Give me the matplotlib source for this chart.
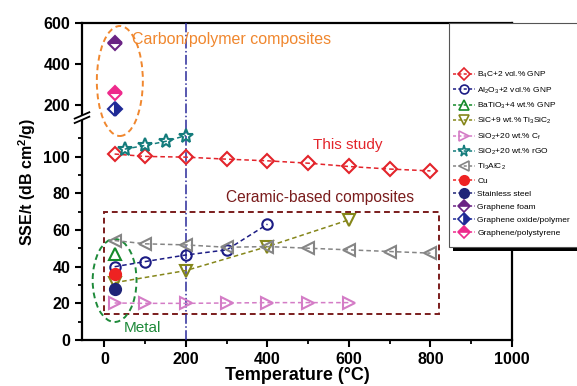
import numpy as np
import matplotlib
matplotlib.use('Agg')
import matplotlib.pyplot as plt
from matplotlib.patches import Ellipse, Rectangle
from matplotlib.lines import Line2D

plt.rcParams['font.family'] = ['Liberation Sans', 'DejaVu Sans']
plt.rcParams['mathtext.default'] = 'regular'

# ---- data ----
b4c_x = [25, 100, 200, 300, 400, 500, 600, 700, 800]
b4c_y = [101.5, 100.2, 99.8, 98.7, 97.8, 96.5, 94.7, 93.3, 92.3]

al2o3_x = [25, 100, 200, 300, 400]
al2o3_y = [40.0, 42.8, 46.4, 49.2, 63.2]

batio3_x = [25]
batio3_y = [47.0]

sic_x = [25, 200, 400, 600]
sic_y = [31.3, 37.9, 51.0, 65.6]

sio2cf_x = [25, 100, 200, 300, 400, 500, 600]
sio2cf_y = [20.2, 20.0, 20.0, 20.2, 20.4, 20.4, 20.4]

sio2rgo_x = [50, 100, 150, 200]
sio2rgo_y = [104.2, 106.2, 108.4, 111.6]

ti3alc2_x = [25, 100, 200, 300, 400, 500, 600, 700, 800]
ti3alc2_y = [54.3, 52.5, 51.9, 50.6, 51.0, 50.1, 49.2, 48.3, 47.4]

cu_x, cu_y = [25], [36.0]
ss_x, ss_y = [25], [28.0]
foam_x, foam_y = [25], [500.0]
gopoly_x, gopoly_y = [25], [180.0]
grps_x, grps_y = [25], [260.0]

labels = ['B$_4$C+2 vol.% GNP', 'Al$_2$O$_3$+2 vol.% GNP', 'BaTiO$_3$+4 wt.% GNP',
          'SiC+9 wt.% Ti$_3$SiC$_2$', 'SiO$_2$+20 wt.% C$_f$', 'SiO$_2$+20 wt.% rGO',
          'Ti$_3$AlC$_2$', 'Cu', 'Stainless steel', 'Graphene foam',
          'Graphene oxide/polymer', 'Graphene/polystyrene']

xticks = [0, 200, 400, 600, 800, 1000]
yticks = [0, 20, 40, 60, 80, 100, 200, 400, 600]

# ---- broken y axis: 0-120 linear, gap, 150-600 compressed ----
B1, B2, G, K = 120.0, 150.0, 2.73, 0.11175


def fwd(y):
    y = np.asarray(y, float)
    return np.where(y <= B1, y,
                    np.where(y < B2, B1 + (y - B1) * G / (B2 - B1), B1 + G + (y - B2) * K))


def inv(v):
    v = np.asarray(v, float)
    return np.where(v <= B1, v,
                    np.where(v < B1 + G, B1 + (v - B1) * (B2 - B1) / G, B2 + (v - B1 - G) / K))


W, H = 577, 386
fig = plt.figure(figsize=(W / 100, H / 100), dpi=100)
ax = fig.add_axes([82 / W, (H - 340) / H, (512 - 82) / W, (340 - 23) / H])
ax.set_yscale('function', functions=(fwd, inv))
ax.set_xlim(-55, 1000)
ax.set_ylim(0, 600)

dash = (3, 2)
series = [
    (b4c_x, b4c_y, '#e3242b', 'D', 'none', 'full', 7),
    (al2o3_x, al2o3_y, '#1c1c84', 'o', 'none', 'full', 7.5),
    (batio3_x, batio3_y, '#158a2a', '^', 'none', 'full', 8),
    (sic_x, sic_y, '#85861a', 'v', 'none', 'full', 8),
    (sio2cf_x, sio2cf_y, '#d47cc6', '>', 'none', 'full', 8),
    (sio2rgo_x, sio2rgo_y, '#147c7c', '*', 'none', 'full', 10),
    (ti3alc2_x, ti3alc2_y, '#858585', '<', 'none', 'full', 8),
    (cu_x, cu_y, '#ee2222', 'o', None, 'full', 8),
    (ss_x, ss_y, '#1f2478', 'o', None, 'full', 8),
    (foam_x, foam_y, '#6a2384', 'D', None, 'top', 7),
    (gopoly_x, gopoly_y, '#1f2a96', 'D', None, 'right', 7),
    (grps_x, grps_y, '#ee2a8c', 'D', None, 'top', 7),
]

handles = []
for (xs, ys, c, m, fc, fs, ms), lab in zip(series, labels):
    kw = dict(color=c, marker=m, markersize=ms, markeredgewidth=1.5,
              fillstyle=fs, markerfacecoloralt='white', linewidth=1.1)
    if fc is not None:
        kw['markerfacecolor'] = fc
    ax.plot(xs, ys, linestyle=(0, dash), zorder=4, **kw)
    handles.append(Line2D([], [], linestyle=(0, (2, 1.5)), label=lab,
                          **dict(kw, markersize=ms * 0.85, markeredgewidth=1.2)))

# vertical dash-dot line at 200 C
ax.axvline(200, color='#2a2a9a', linestyle='-.', linewidth=1.1, zorder=3)

# ceramic box
ax.add_patch(Rectangle((0, 14), 822, 56, fill=False, edgecolor='#7a1c1c',
                       linestyle=(0, (3, 2)), linewidth=1.4, zorder=2))

to_axes = ax.transData + ax.transAxes.inverted()
ax.add_patch(Ellipse((0.088, 0.817), 0.107, 0.347, transform=ax.transAxes, fill=False,
                     edgecolor='#f0872e', linestyle=(0, (3, 2)), linewidth=1.4,
                     clip_on=False, zorder=2))
mx, my = to_axes.transform((25, 32.5))
ax.add_patch(Ellipse((mx, my), 0.102, 0.262, transform=ax.transAxes, fill=False,
                     edgecolor='#1e8a3a', linestyle=(0, (3, 2)), linewidth=1.4,
                     clip_on=False, zorder=2))

ax.text(312, 519, 'Carbon/polymer composites', color='#f0872e', fontsize=11.5,
        ha='center', va='center')
ax.text(598, 106.5, 'This study', color='#e3242b', fontsize=11, ha='center', va='center')
ax.text(530, 77.6, 'Ceramic-based composites', color='#7a1c1c', fontsize=11.2,
        ha='center', va='center')
ax.text(93, 6.5, 'Metal', color='#1e8a3a', fontsize=11, ha='center', va='center')

# axes styling
for s in ax.spines.values():
    s.set_linewidth(1.6)
ax.set_xticks(xticks)
ax.set_xticks(np.arange(100, 1000, 200), minor=True)
ax.set_yticks(yticks)
ax.set_yticklabels([str(t) for t in yticks])
ax.set_yticks(np.arange(10, 120, 20), minor=True)
ax.tick_params(which='major', direction='out', length=5, width=1.5, labelsize=11.5)
ax.tick_params(which='minor', direction='out', length=3, width=1.3)
for lab in ax.get_xticklabels() + ax.get_yticklabels():
    lab.set_fontweight('bold')
ax.set_xlabel('Temperature (\u00b0C)', fontsize=13, fontweight='bold', labelpad=0)
ax.set_ylabel('SSE/t (dB cm$^2$/g)', fontsize=11.5, fontweight='bold', labelpad=4)

# break marks on the y axis
_, by = to_axes.transform((0, 135))
ax.add_patch(Rectangle((-0.03, by - 0.007), 0.06, 0.014, transform=ax.transAxes,
                       facecolor='white', edgecolor='none', clip_on=False, zorder=5))
for dy in (-0.007, 0.007):
    ax.plot([-0.017, 0.017], [by + dy - 0.01, by + dy + 0.01], transform=ax.transAxes,
            color='k', linewidth=1.3, clip_on=False, zorder=6)

# legend box with shadow, drawn at figure level
fig.add_artist(Rectangle((453 / W, (H - 251) / H), 0.3, 224 / H, transform=fig.transFigure,
                         facecolor='black', edgecolor='none', zorder=8))
fig.add_artist(Rectangle((449 / W, (H - 247) / H), 0.3, 224 / H, transform=fig.transFigure,
                         facecolor='white', edgecolor='#555555', linewidth=0.8, zorder=9))
leg = fig.legend(handles=handles, loc='upper left', bbox_to_anchor=(453 / W, (H - 70) / H),
                 frameon=False, fontsize=6, handlelength=2.6, handletextpad=0.3,
                 labelspacing=0.62, borderpad=0, borderaxespad=0)
leg.set_zorder(10)

fig.savefig('out.png', dpi=100)
